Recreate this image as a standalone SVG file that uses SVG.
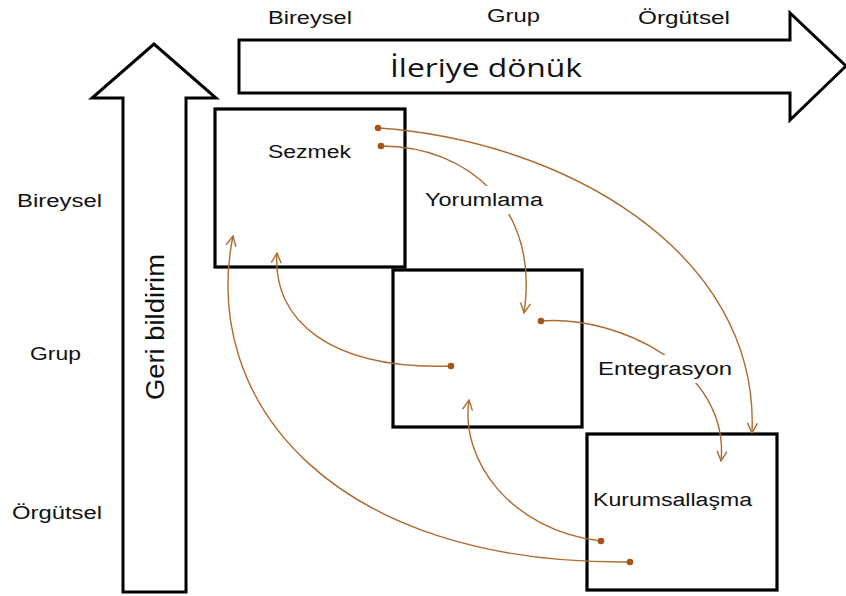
<svg xmlns="http://www.w3.org/2000/svg" width="846" height="596" viewBox="0 0 846 596">
  <style>
    .axis { fill: #ffffff; stroke: #000000; stroke-width: 3; stroke-linejoin: miter; }
    .box { fill: #ffffff; stroke: #000000; stroke-width: 3.2; }
    .lbl { font-family: "Liberation Sans", Arial, sans-serif; font-size: 18px; fill: #111111; }
    .big { font-family: "Open Sans", "Liberation Sans", sans-serif; font-size: 25px; fill: #111111; }
    .vert { font-family: "Liberation Sans", Arial, sans-serif; font-size: 25px; fill: #111111; }
    .flow { fill: none; stroke: #B06A2E; stroke-width: 1.4; }
    .dot { fill: #A3551A; }
    .halo { fill: #ffffff; }
  </style>
  <defs>
    <marker id="open-head" viewBox="0 0 12 12" refX="11" refY="6" markerWidth="12" markerHeight="12" markerUnits="userSpaceOnUse" orient="auto">
      <path d="M1,1 L11,6 L1,11" fill="none" stroke="#B06A2E" stroke-width="1.4"/>
    </marker>
  </defs>
  <rect width="846" height="596" fill="#ffffff"/>

  <!-- forward axis -->
  <g id="axis-forward">
    <path class="axis" d="M239,40 L790,40 L790,13 L846,66 L790,120 L790,93 L239,93 Z"/>
    <text class="big" x="486" y="77" text-anchor="middle" textLength="192" lengthAdjust="spacingAndGlyphs">İleriye dönük</text>
  </g>

  <!-- feedback axis -->
  <g id="axis-feedback">
    <path class="axis" d="M123,592 L123,98 L92,98 L154,44 L216,98 L186,98 L186,592 Z"/>
    <text class="vert" transform="translate(164,327) rotate(-90)" text-anchor="middle" textLength="146" lengthAdjust="spacingAndGlyphs">Geri bildirim</text>
  </g>

  <!-- level labels -->
  <g id="levels-top">
    <text class="lbl" x="268" y="24" textLength="84" lengthAdjust="spacingAndGlyphs">Bireysel</text>
    <text class="lbl" x="487" y="22" textLength="53" lengthAdjust="spacingAndGlyphs">Grup</text>
    <text class="lbl" x="638" y="24" textLength="92" lengthAdjust="spacingAndGlyphs">Örgütsel</text>
  </g>
  <g id="levels-left">
    <text class="lbl" x="17" y="207" textLength="85" lengthAdjust="spacingAndGlyphs">Bireysel</text>
    <text class="lbl" x="30" y="360" textLength="51" lengthAdjust="spacingAndGlyphs">Grup</text>
    <text class="lbl" x="12" y="519" textLength="90" lengthAdjust="spacingAndGlyphs">Örgütsel</text>
  </g>

  <!-- stage boxes -->
  <g id="node-sezmek">
    <rect class="box" x="215" y="109" width="190" height="158"/>
    <text class="lbl" x="268" y="158" textLength="83" lengthAdjust="spacingAndGlyphs">Sezmek</text>
  </g>
  <g id="node-middle">
    <rect class="box" x="393" y="270" width="189" height="157"/>
  </g>
  <g id="node-kurumsallasma">
    <rect class="box" x="587" y="434" width="190" height="156"/>
    <text class="lbl" x="593" y="506" textLength="159" lengthAdjust="spacingAndGlyphs">Kurumsallaşma</text>
  </g>

  <!-- process flows -->
  <g id="connectors">
    <path class="flow" marker-end="url(#open-head)" d="M378,128 C560,140 760,250 752,433"/>
    <path class="flow" marker-end="url(#open-head)" d="M381,146 C470,146 540,210 524,313"/>
    <path class="flow" marker-end="url(#open-head)" d="M541,321 C620,315 730,370 721,461"/>
    <path class="flow" marker-end="url(#open-head)" d="M451,366 C330,370 272,320 277,253"/>
    <path class="flow" marker-end="url(#open-head)" d="M601,541 C510,530 460,460 469,400"/>
    <path class="flow" marker-end="url(#open-head)" d="M630,562 C330,565 200,400 233,236"/>
    <circle class="dot" cx="378" cy="128" r="3.3"/>
    <circle class="dot" cx="381" cy="146" r="3.3"/>
    <circle class="dot" cx="541" cy="321" r="3.3"/>
    <circle class="dot" cx="451" cy="366" r="3.3"/>
    <circle class="dot" cx="601" cy="541" r="3.3"/>
    <circle class="dot" cx="630" cy="562" r="3.3"/>
  </g>

  <!-- flow labels -->
  <g id="label-yorumlama">
    <rect class="halo" x="421" y="186" width="126" height="28"/>
    <text class="lbl" x="425" y="206" textLength="118" lengthAdjust="spacingAndGlyphs">Yorumlama</text>
  </g>
  <g id="label-entegrasyon">
    <rect class="halo" x="594" y="355" width="142" height="28"/>
    <text class="lbl" x="598" y="375" textLength="134" lengthAdjust="spacingAndGlyphs">Entegrasyon</text>
  </g>
</svg>
